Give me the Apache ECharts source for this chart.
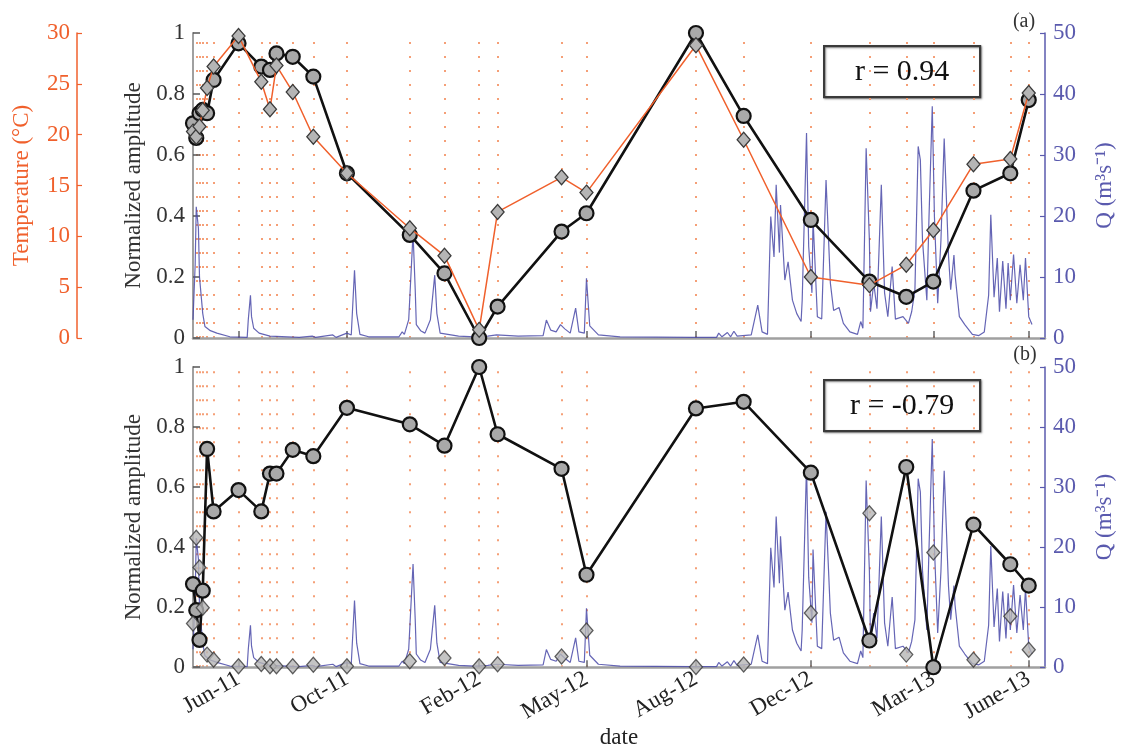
<!DOCTYPE html>
<html><head><meta charset="utf-8">
<script src="https://cdn.jsdelivr.net/npm/echarts@6/dist/echarts.min.js"></script>
<style>html,body{margin:0;padding:0;background:#fff}#c{width:1124px;height:750px}</style>
</head><body><div id="c"></div>
<script>
// ---- data (x = days since 2011-05-01) ----
const sampleDay = [0,3,6,9,13,19,42,63,71,77,92,111,142,200,232,264,281,340,363,464,508,570,624,658,683,720,754,771];
const ampA = [0.704,0.656,0.737,0.748,0.737,0.846,0.966,0.890,0.879,0.933,0.922,0.857,0.540,0.338,0.212,0.0,0.103,0.349,0.409,1.0,0.728,0.387,0.185,0.135,0.185,0.483,0.540,0.780];
const tempA = [20.3,19.8,20.8,22.4,24.6,26.7,29.7,25.2,22.5,26.8,24.2,19.8,16.2,10.8,8.1,0.8,12.4,15.8,14.3,28.8,19.5,6.0,5.2,7.2,10.6,17.1,17.6,24.1];
const ampB = [0.277,0.19,0.091,0.255,0.727,0.519,0.59,0.519,0.645,0.645,0.724,0.703,0.864,0.809,0.738,1.0,0.776,0.661,0.308,0.862,0.884,0.648,0.089,0.667,0.0,0.475,0.343,0.272];
const qNormB = [0.146,0.431,0.332,0.198,0.042,0.025,0.003,0.011,0.003,0.003,0.003,0.008,0.003,0.02,0.031,0.003,0.01,0.036,0.122,0.001,0.009,0.181,0.513,0.042,0.382,0.025,0.170,0.058];
const qDay = [0,2,3,5,6,9,11,16,22,34,50,51,53,54,56,61,71,98,110,113,129,132,142,146,149,151,154,162,190,193,195,199,203,205,206,210,214,219,223,225,228,245,260,272,280,300,323,326,330,335,339,343,348,353,356,361,363,366,374,394,461,483,485,488,493,496,499,502,515,521,525,530,533,536,538,541,542,546,549,553,557,561,562,566,568,571,572,576,580,584,588,591,596,600,606,613,616,618,621,624,625,628,631,635,638,641,645,648,655,660,663,666,669,671,673,677,679,682,684,687,690,693,697,699,702,703,707,712,719,725,730,734,736,739,742,744,747,750,752,754,757,760,763,766,768,771,774];
const qVal = [3.0,12,21.5,18,10,4,1.9,1.2,0.8,0.2,0.1,3,7.0,3.5,1.6,0.8,0.3,0.1,0.3,0.1,0.5,0.1,0.8,0.5,11.1,4,0.6,0.2,0.2,1.0,0.6,3,17.2,8,2.2,1.2,0.8,3,10.3,4,0.8,0.3,0.2,0.3,0.5,0.3,0.4,2.95,1.3,1.0,2.2,1.5,0.8,4.9,1.0,0.8,9.8,2.0,0.5,0.2,0.1,0.1,0.8,0.2,0.9,0.2,1.1,0.3,0.5,5.4,1.0,0.6,19.9,13.3,25.1,14,21.8,9.5,12.5,6.2,4.0,2.7,6.2,33.6,15,7.4,19.6,3.5,3.1,25.9,9.0,4.5,5.0,2.4,1.0,0.6,2.7,1.6,31.1,16,4.3,9.0,4.8,25.1,7.4,3.5,11.7,3.1,3.5,2.4,4.3,7.9,31.4,29.2,16,6.2,19.9,38,19.9,5.7,16,32.7,13.4,7.9,13.6,10.4,3.5,2.2,0.6,0.4,1.0,7.0,20.2,6.7,13.1,4.3,12.6,4.8,12.3,6.2,13.7,5.7,12,6.2,13.1,3.5,2.2];
const tickDay = [42,142,264,363,464,570,683,771];
const tickLabel = ['Jun-11','Oct-11','Feb-12','May-12','Aug-12','Dec-12','Mar-13','June-13'];
const rA = 'r = 0.94', rB = 'r = -0.79';

// ---- style ----
const FONT = 'Liberation Serif';
const ORANGE = '#f0602c', BLUE = '#5a5aae', QLINE = '#4a4aa8';
const xMin = 0, xMax = 786;
const zip = (a, b) => a.map((v, i) => [v, b[i]]);

function xAxisCfg(gridIndex, showLabels) {
  return {
    type: 'value', gridIndex, min: xMin, max: xMax,
    axisLine: {show: true, onZero: false, lineStyle: {color: '#a0a0a0', width: 2.5}},
    axisTick: {show: true, inside: true, length: 7, customValues: tickDay, lineStyle: {color: '#666', width: 1.5}},
    axisLabel: {show: showLabels, customValues: tickDay, rotate: 30, margin: 10, fontFamily: FONT, fontSize: 23, color: '#222',
      formatter: v => { const i = tickDay.indexOf(v); return i >= 0 ? tickLabel[i] : ''; }},
    splitLine: {show: false},
    name: showLabels ? 'date' : '', nameLocation: 'middle', nameGap: 58,
    nameTextStyle: {fontFamily: FONT, fontSize: 23, color: '#222'}
  };
}
function ampAxis(gridIndex) {
  return {
    type: 'value', gridIndex, min: 0, max: 1, interval: 0.2, position: 'left',
    axisLine: {show: true, onZero: false, lineStyle: {color: '#a0a0a0', width: 2}},
    axisTick: {show: true, inside: true, length: 7, lineStyle: {color: '#555', width: 1.5}},
    axisLabel: {fontFamily: FONT, fontSize: 23, color: '#333', margin: 8,
      formatter: v => (Math.abs(v) < 1e-9 ? '0' : Math.abs(v - 1) < 1e-9 ? '1' : v.toFixed(1))},
    splitLine: {show: false},
    name: 'Normalized amplitude', nameLocation: 'middle', nameGap: 44, nameRotate: 90,
    nameTextStyle: {fontFamily: FONT, fontSize: 23, color: '#333'}
  };
}
function qAxis(gridIndex) {
  return {
    type: 'value', gridIndex, min: 0, max: 50, interval: 10, position: 'right',
    axisLine: {show: true, onZero: false, lineStyle: {color: BLUE, width: 1.5}},
    axisTick: {show: true, inside: true, length: 5, lineStyle: {color: BLUE, width: 1.2}},
    axisLabel: {fontFamily: FONT, fontSize: 23, color: BLUE, margin: 8},
    splitLine: {show: false},
    name: 'Q (m³s⁻¹)', nameLocation: 'middle', nameGap: 48, nameRotate: 90,
    nameTextStyle: {fontFamily: FONT, fontSize: 23, color: BLUE}
  };
}
const tempAxis = {
  type: 'value', gridIndex: 0, min: 0, max: 30, interval: 5, position: 'left', offset: 116,
  axisLine: {show: true, onZero: false, lineStyle: {color: ORANGE, width: 1.5}},
  axisTick: {show: true, inside: true, length: 5, lineStyle: {color: ORANGE, width: 1.2}},
  axisLabel: {fontFamily: FONT, fontSize: 23, color: ORANGE, margin: 7},
  splitLine: {show: false},
  name: 'Temperature (°C)', nameLocation: 'middle', nameGap: 44, nameRotate: 90,
  nameTextStyle: {fontFamily: FONT, fontSize: 23, color: ORANGE}
};

const circleStyle = {color: '#a9a9a9', borderColor: '#111', borderWidth: 2.2};
const diamondStyle = {color: '#b5b5b5', borderColor: '#3a3a3a', borderWidth: 1.3};

function dotLines(xi, yi) {
  return {
    type: 'line', xAxisIndex: xi, yAxisIndex: yi, data: [], silent: true, z: 0,
    markLine: {
      silent: true, symbol: 'none', animation: false, z: 0,
      label: {show: false},
      lineStyle: {color: '#f49a70', width: 2, type: [2, 12], opacity: 0.95},
      data: sampleDay.map(d => ({xAxis: d}))
    }
  };
}
function qSeries(xi, yi) {
  return {type: 'line', xAxisIndex: xi, yAxisIndex: yi, data: zip(qDay, qVal), showSymbol: false, symbol: 'none',
    lineStyle: {color: QLINE, width: 1.2, opacity: 0.85}, z: 1};
}
function rBox(y, text) {
  return {
    type: 'group', left: 823, top: y,
    children: [
      {type: 'rect', shape: {x: 0, y: 0, width: 156, height: 51},
        style: {fill: '#fff', stroke: '#3a3a3a', lineWidth: 2.2, shadowBlur: 2, shadowColor: 'rgba(0,0,0,0.35)', shadowOffsetX: 1, shadowOffsetY: 1}},
      {type: 'text', x: 78, y: 26, style: {text, font: '30px "Liberation Serif"', fill: '#111', align: 'center', verticalAlign: 'middle'}}
    ]
  };
}

const option = {
  animation: false,
  backgroundColor: '#fff',
  grid: [
    {left: 193, top: 33, width: 857, height: 305},
    {left: 193, top: 367, width: 857, height: 304}
  ],
  xAxis: [xAxisCfg(0, false), xAxisCfg(1, true)],
  yAxis: [ampAxis(0), tempAxis, qAxis(0), ampAxis(1), qAxis(1)],
  series: [
    dotLines(0, 0), dotLines(1, 3),
    qSeries(0, 2), qSeries(1, 4),
    {type: 'line', xAxisIndex: 0, yAxisIndex: 0, data: zip(sampleDay, ampA), symbol: 'circle', symbolSize: 14,
      lineStyle: {color: '#111', width: 2.6}, itemStyle: circleStyle, z: 3},
    {type: 'line', xAxisIndex: 0, yAxisIndex: 1, data: zip(sampleDay, tempA), symbol: 'diamond', symbolSize: [13, 15],
      lineStyle: {color: ORANGE, width: 1.5}, itemStyle: diamondStyle, z: 4},
    {type: 'line', xAxisIndex: 1, yAxisIndex: 3, data: zip(sampleDay, ampB), symbol: 'circle', symbolSize: 14,
      lineStyle: {color: '#111', width: 2.6}, itemStyle: circleStyle, z: 3},
    {type: 'scatter', xAxisIndex: 1, yAxisIndex: 3, data: zip(sampleDay, qNormB), symbol: 'diamond', symbolSize: [13, 15],
      itemStyle: diamondStyle, z: 4}
  ],
  graphic: [
    rBox(45, rA), rBox(379, rB),
    {type: 'text', x: 1024, y: 22, style: {text: '(a)', font: '20px "Liberation Serif"', fill: '#333', align: 'center', verticalAlign: 'middle'}},
    {type: 'text', x: 1025, y: 355, style: {text: '(b)', font: '20px "Liberation Serif"', fill: '#333', align: 'center', verticalAlign: 'middle'}}
  ]
};
const chart = echarts.init(document.getElementById('c'));
chart.setOption(option);
</script></body></html>
